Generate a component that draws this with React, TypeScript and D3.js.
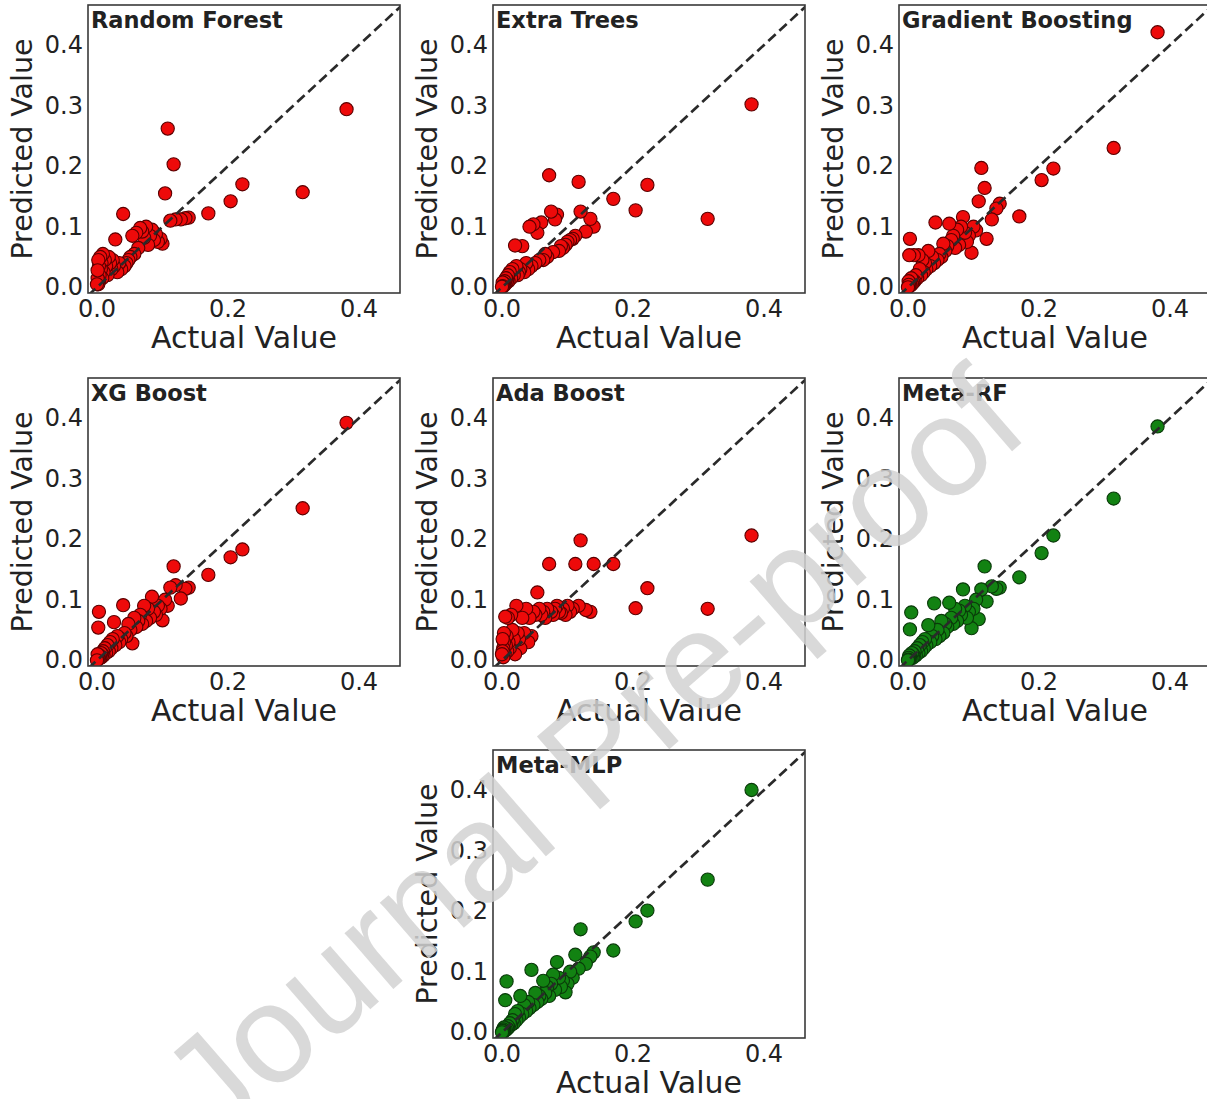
import React from "react";
import * as d3 from "d3";

const W = 1207;
const H = 1099;
const boxW = 312;
const boxH = 288;

// shared test-set targets
const actual = [
  0.381, 0.314, 0.222, 0.204, 0.17, 0.14, 0.135, 0.128, 0.12, 0.117, 0.112, 0.108, 0.104,
  0.1, 0.097, 0.093, 0.09, 0.087, 0.084, 0.081, 0.078, 0.075, 0.072, 0.069, 0.066, 0.063,
  0.06, 0.057, 0.054, 0.051, 0.048, 0.045, 0.042, 0.04, 0.037, 0.034, 0.031, 0.028, 0.026,
  0.024, 0.022, 0.02, 0.018, 0.016, 0.014, 0.012, 0.01, 0.009, 0.008, 0.007, 0.006, 0.005,
  0.004, 0.003, 0.003, 0.002, 0.002, 0.001, 0.001, 0.0,
];

const predRF = [
  0.294, 0.157, 0.17, 0.142, 0.122, 0.115, 0.114, 0.112, 0.112, 0.203, 0.11, 0.262, 0.155,
  0.072, 0.08, 0.075, 0.088, 0.078, 0.095, 0.085, 0.07, 0.1, 0.082, 0.092, 0.098, 0.065,
  0.09, 0.055, 0.085, 0.05, 0.045, 0.04, 0.035, 0.121, 0.03, 0.04, 0.025, 0.079, 0.035,
  0.045, 0.03, 0.04, 0.05, 0.02, 0.035, 0.045, 0.025, 0.055, 0.015, 0.04, 0.03, 0.05,
  0.02, 0.01, 0.035, 0.005, 0.045, 0.015, 0.028, 0.005,
];
const predET = [
  0.302, 0.113, 0.169, 0.127, 0.146, 0.1, 0.113, 0.092, 0.125, 0.174, 0.085, 0.08, 0.078,
  0.075, 0.07, 0.065, 0.068, 0.06, 0.12, 0.112, 0.058, 0.125, 0.185, 0.05, 0.055, 0.045,
  0.107, 0.045, 0.09, 0.04, 0.104, 0.035, 0.1, 0.03, 0.04, 0.025, 0.068, 0.03, 0.025,
  0.02, 0.035, 0.069, 0.02, 0.03, 0.015, 0.025, 0.01, 0.02, 0.012, 0.008, 0.015, 0.005,
  0.01, 0.003, 0.006, 0.004, 0.002, 0.008, 0.002, 0.001,
];
const predGB = [
  0.421, 0.23, 0.196, 0.177, 0.117, 0.138, 0.13, 0.112, 0.08, 0.164, 0.197, 0.142, 0.094,
  0.1, 0.057, 0.085, 0.075, 0.09, 0.116, 0.1, 0.07, 0.095, 0.065, 0.085, 0.078, 0.105,
  0.068, 0.06, 0.072, 0.05, 0.055, 0.045, 0.107, 0.04, 0.05, 0.035, 0.06, 0.03, 0.04,
  0.025, 0.045, 0.02, 0.03, 0.053, 0.015, 0.02, 0.01, 0.053, 0.008, 0.012, 0.005, 0.015,
  0.003, 0.08, 0.007, 0.053, 0.002, 0.01, 0.004, 0.0,
];
const predXGB = [
  0.392, 0.251, 0.183, 0.17, 0.141, 0.12, 0.118, 0.102, 0.124, 0.155, 0.12, 0.09, 0.1,
  0.066, 0.085, 0.09, 0.075, 0.08, 0.105, 0.07, 0.085, 0.065, 0.09, 0.06, 0.075, 0.065,
  0.055, 0.07, 0.028, 0.05, 0.06, 0.04, 0.045, 0.091, 0.035, 0.03, 0.04, 0.025, 0.063,
  0.035, 0.02, 0.03, 0.015, 0.025, 0.012, 0.02, 0.008, 0.015, 0.01, 0.005, 0.012, 0.004,
  0.008, 0.08, 0.003, 0.054, 0.005, 0.002, 0.01, 0.0,
];
const predADA = [
  0.206, 0.085, 0.119, 0.086, 0.159, 0.159, 0.08, 0.083, 0.198, 0.09, 0.159, 0.085, 0.08,
  0.09, 0.075, 0.085, 0.078, 0.08, 0.09, 0.085, 0.075, 0.08, 0.159, 0.085, 0.07, 0.08,
  0.075, 0.085, 0.112, 0.075, 0.08, 0.04, 0.07, 0.03, 0.085, 0.045, 0.07, 0.02, 0.035,
  0.045, 0.09, 0.01, 0.035, 0.05, 0.075, 0.02, 0.03, 0.07, 0.015, 0.04, 0.025, 0.072,
  0.01, 0.045, 0.03, 0.02, 0.005, 0.035, 0.015, 0.01,
];
const predMetaRF = [
  0.386, 0.267, 0.206, 0.177, 0.137, 0.12, 0.118, 0.122, 0.097, 0.155, 0.117, 0.068, 0.1,
  0.085, 0.053, 0.08, 0.07, 0.09, 0.117, 0.075, 0.082, 0.065, 0.085, 0.06, 0.07, 0.095,
  0.055, 0.06, 0.045, 0.065, 0.04, 0.05, 0.035, 0.094, 0.04, 0.03, 0.058, 0.025, 0.035,
  0.02, 0.03, 0.015, 0.025, 0.012, 0.02, 0.008, 0.015, 0.006, 0.01, 0.004, 0.012, 0.079,
  0.003, 0.051, 0.006, 0.002, 0.008, 0.004, 0.001, 0.0,
];
const predMetaMLP = [
  0.4, 0.252, 0.201, 0.183, 0.135, 0.132, 0.125, 0.113, 0.17, 0.105, 0.128, 0.09, 0.1,
  0.08, 0.066, 0.085, 0.075, 0.09, 0.116, 0.07, 0.095, 0.08, 0.06, 0.075, 0.065, 0.085,
  0.055, 0.06, 0.05, 0.065, 0.045, 0.103, 0.04, 0.05, 0.035, 0.045, 0.03, 0.06, 0.025,
  0.035, 0.02, 0.03, 0.015, 0.02, 0.012, 0.015, 0.008, 0.01, 0.006, 0.084, 0.004, 0.053,
  0.003, 0.008, 0.002, 0.005, 0.001, 0.003, 0.002, 0.0,
];

const titles = ["Random Forest", "Extra Trees", "Gradient Boosting", "XG Boost", "Ada Boost", "Meta-RF", "Meta-MLP"];
const predictions = [predRF, predET, predGB, predXGB, predADA, predMetaRF, predMetaMLP];
const isMeta = [false, false, false, false, false, true, true];
const xTicks = [0.0, 0.2, 0.4];
const yTicks = [0.0, 0.1, 0.2, 0.3, 0.4];

// panel grid (col, row) – last row only has the middle slot
const slots = [
  [0, 0], [1, 0], [2, 0],
  [0, 1], [1, 1], [2, 1],
  [1, 2],
];
const colLeft = [88, 493, 899];
const rowTop = [5, 378, 750];

const x = d3.scaleLinear().domain([-0.0137, 0.4626]).range([0, boxW]);
const y = d3.scaleLinear().domain([-0.0094, 0.466]).range([boxH, 0]);

const font = "'DejaVu Sans', sans-serif";
const ink = "#222";

const Panel = ({ idx }: { idx: number }) => {
  const [c, r] = slots[idx];
  const pred = predictions[idx];
  const fill = isMeta[idx] ? "#128212" : "#ee0a0a";
  const edge = isMeta[idx] ? "#0a3a0a" : "#5a0000";
  const lo = Math.min(x.domain()[0], y.domain()[0]);
  const hi = Math.max(x.domain()[1], y.domain()[1]);
  const clipId = `clip-${idx}`;
  return (
    <g transform={`translate(${colLeft[c]},${rowTop[r]})`}>
      <defs>
        <clipPath id={clipId}>
          <rect width={boxW} height={boxH} />
        </clipPath>
      </defs>
      <rect width={boxW} height={boxH} fill="#fff" />
      <g clipPath={`url(#${clipId})`}>
        {actual.map((a, i) => (
          <circle key={i} cx={x(a)} cy={y(pred[i])} r={6.6} fill={fill} stroke={edge} strokeWidth={1.1} />
        ))}
        <line
          x1={x(lo)}
          y1={y(lo)}
          x2={x(hi)}
          y2={y(hi)}
          stroke="#2a2a2a"
          strokeWidth={2.7}
          strokeDasharray="10 5"
        />
      </g>
      <rect width={boxW} height={boxH} fill="none" stroke="#3a3a3a" strokeWidth={1.6} />
      <text x={3} y={23} fontFamily={font} fontWeight="bold" fontSize={22.5} fill={ink}>
        {titles[idx]}
      </text>
      {xTicks.map((t) => (
        <text key={t} x={x(t)} y={boxH + 24} textAnchor="middle" fontFamily={font} fontSize={24} fill={ink}>
          {d3.format(".1f")(t)}
        </text>
      ))}
      {yTicks.map((t) => (
        <text
          key={t}
          x={-5}
          y={y(t)}
          textAnchor="end"
          dominantBaseline="central"
          fontFamily={font}
          fontSize={24}
          fill={ink}
        >
          {d3.format(".1f")(t)}
        </text>
      ))}
      <text x={boxW / 2} y={boxH + 55} textAnchor="middle" fontFamily={font} fontSize={30} fill={ink}>
        Actual Value
      </text>
      <text
        transform={`translate(${-66},${boxH / 2}) rotate(-90)`}
        textAnchor="middle"
        dominantBaseline="central"
        fontFamily={font}
        fontSize={28.5}
        fill={ink}
      >
        Predicted Value
      </text>
    </g>
  );
};

export default function App() {
  return (
    <svg
      width={W}
      height={H}
      style={{ position: "absolute", left: 0, top: 0, background: "#fff" }}
    >
      <rect width={W} height={H} fill="#fff" />
      {titles.map((_, i) => (
        <Panel key={i} idx={i} />
      ))}
      {/* watermark */}
      <text
        transform="translate(592,752) rotate(-41)"
        textAnchor="middle"
        dominantBaseline="central"
        fontFamily="'Liberation Sans', Arial, sans-serif"
        fontSize={140}
        fill="#d2d2d2"
        fillOpacity={0.85}
      >
        Journal Pre-proof
      </text>
    </svg>
  );
}
